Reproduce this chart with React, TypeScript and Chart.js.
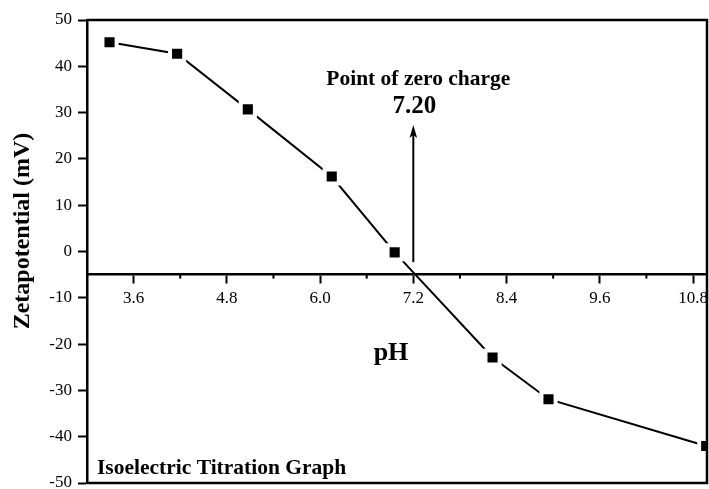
import React, { useEffect, useRef } from 'react';
import { Chart, registerables } from 'chart.js';

Chart.register(...registerables);

// ---- data ----
const phValues = [3.29, 4.16, 5.07, 6.15, 6.96, 8.22, 8.94, 10.97];
const zetaValues = [45.2, 42.7, 30.7, 16.2, -0.2, -22.9, -31.9, -42.0];
const xMajorTicks = [3.6, 4.8, 6.0, 7.2, 8.4, 9.6, 10.8];
const xMinorTicks = [4.2, 5.4, 6.6, 7.8, 9.0, 10.2];
const yTicks = [-50, -40, -30, -20, -10, 0, 10, 20, 30, 40, 50];
const pzcValue = 7.2;
const arrowFrom = -2.3;
const arrowTo = 27.3;
const axisCrossY = -5;

const FONT = '"Liberation Serif", "Times New Roman", serif';

const zeroPadding = (scale: any) => {
  scale.paddingTop = 0;
  scale.paddingBottom = 0;
  scale.paddingLeft = 0;
  scale.paddingRight = 0;
};

const decorPlugin = {
  id: 'decor',
  afterDraw(chart: any) {
    const { ctx, chartArea } = chart;
    const xs = chart.scales.x;
    const ys = chart.scales.y;
    ctx.save();
    // frame: top, right, bottom
    ctx.strokeStyle = '#000';
    ctx.lineWidth = 2.5;
    ctx.beginPath();
    ctx.moveTo(chartArea.left, chartArea.top);
    ctx.lineTo(chartArea.right, chartArea.top);
    ctx.lineTo(chartArea.right, chartArea.bottom);
    ctx.lineTo(chartArea.left, chartArea.bottom);
    ctx.stroke();

    // minor x ticks
    const axisY = ys.getPixelForValue(axisCrossY);
    ctx.lineWidth = 2;
    xMinorTicks.forEach((v) => {
      const px = xs.getPixelForValue(v);
      ctx.beginPath();
      ctx.moveTo(px, axisY);
      ctx.lineTo(px, axisY + 4);
      ctx.stroke();
    });

    // arrow
    const ax = xs.getPixelForValue(pzcValue);
    const ay0 = ys.getPixelForValue(arrowFrom);
    const ay1 = ys.getPixelForValue(arrowTo);
    ctx.lineWidth = 2;
    ctx.beginPath();
    ctx.moveTo(ax, ay0);
    ctx.lineTo(ax, ay1 + 8);
    ctx.stroke();
    ctx.fillStyle = '#000';
    ctx.beginPath();
    ctx.moveTo(ax, ay1);
    ctx.lineTo(ax - 3.8, ay1 + 13);
    ctx.lineTo(ax, ay1 + 10);
    ctx.lineTo(ax + 3.8, ay1 + 13);
    ctx.closePath();
    ctx.fill();

    // texts
    ctx.fillStyle = '#000';
    ctx.textAlign = 'center';
    ctx.textBaseline = 'alphabetic';
    ctx.font = `bold 21.5px ${FONT}`;
    ctx.fillText('Point of zero charge', ax + 5, 85);
    ctx.font = `bold 25px ${FONT}`;
    ctx.fillText(pzcValue.toFixed(2), ax + 1, 113);
    ctx.font = `bold 26px ${FONT}`;
    ctx.fillText('pH', 391, 360);
    ctx.textAlign = 'left';
    ctx.font = `bold 21.5px ${FONT}`;
    ctx.fillText('Isoelectric Titration Graph', chartArea.left + 10, 474);

    // y axis title
    ctx.save();
    ctx.translate(29, 231);
    ctx.rotate(-Math.PI / 2);
    ctx.textAlign = 'center';
    ctx.textBaseline = 'alphabetic';
    ctx.font = `bold 24px ${FONT}`;
    ctx.fillText('Zetapotential (mV)', 0, 0);
    ctx.restore();

    ctx.restore();
  },
};

export default function App() {
  const ref = useRef<HTMLCanvasElement | null>(null);

  useEffect(() => {
    if (!ref.current) return;
    const chart = new Chart(ref.current, {
      type: 'line',
      data: {
        datasets: [
          {
            data: phValues.map((x, i) => ({ x, y: zetaValues[i] })),
            borderColor: '#000',
            borderWidth: 2,
            backgroundColor: '#000',
            pointStyle: 'rect',
            pointRadius: 10,
            pointHoverRadius: 10,
            pointBackgroundColor: '#000',
            pointBorderColor: '#fff',
            pointBorderWidth: 4,
            tension: 0,
            clip: 1,
          } as any,
        ],
      },
      options: {
        animation: false,
        responsive: false,
        devicePixelRatio: 1,
        layout: { autoPadding: false, padding: { left: 0, top: 20, right: 2, bottom: 6 } },
        plugins: {
          legend: { display: false },
          tooltip: { enabled: false },
          title: { display: false },
        },
        scales: {
          x: {
            type: 'linear',
            position: { y: axisCrossY } as any,
            min: 3.0,
            max: 10.98,
            afterBuildTicks: (scale: any) => {
              scale.ticks = xMajorTicks.map((v) => ({ value: v }));
            },
            afterFit: zeroPadding,
            ticks: {
              color: '#000',
              font: { family: FONT, size: 17 },
              padding: 6,
              maxRotation: 0,
              autoSkip: false,
              callback: (v: any) => Number(v).toFixed(1),
            },
            grid: {
              display: true,
              drawOnChartArea: false,
              drawTicks: true,
              tickLength: 8,
              tickColor: '#000',
              tickWidth: 2,
            },
            border: { display: true, color: '#000', width: 2.5 },
          },
          y: {
            type: 'linear',
            position: 'left',
            min: -50,
            max: 50,
            afterBuildTicks: (scale: any) => {
              scale.ticks = yTicks.map((v) => ({ value: v }));
            },
            afterFit: (scale: any) => {
              scale.width = 87;
              zeroPadding(scale);
            },
            ticks: {
              color: '#000',
              font: { family: FONT, size: 17 },
              padding: 6,
              autoSkip: false,
              callback: (v: any) => String(v),
            },
            grid: {
              display: true,
              drawOnChartArea: false,
              drawTicks: true,
              tickLength: 9,
              tickColor: '#000',
              tickWidth: 2,
            },
            border: { display: true, color: '#000', width: 2.5 },
          },
        },
      },
      plugins: [decorPlugin],
    });
    return () => chart.destroy();
  }, []);

  return (
    <div style={{ position: 'absolute', left: 0, top: 0, width: 709, height: 489, overflow: 'hidden', background: '#fff' }}>
      <canvas ref={ref} width={709} height={489} style={{ display: 'block' }} />
    </div>
  );
}
